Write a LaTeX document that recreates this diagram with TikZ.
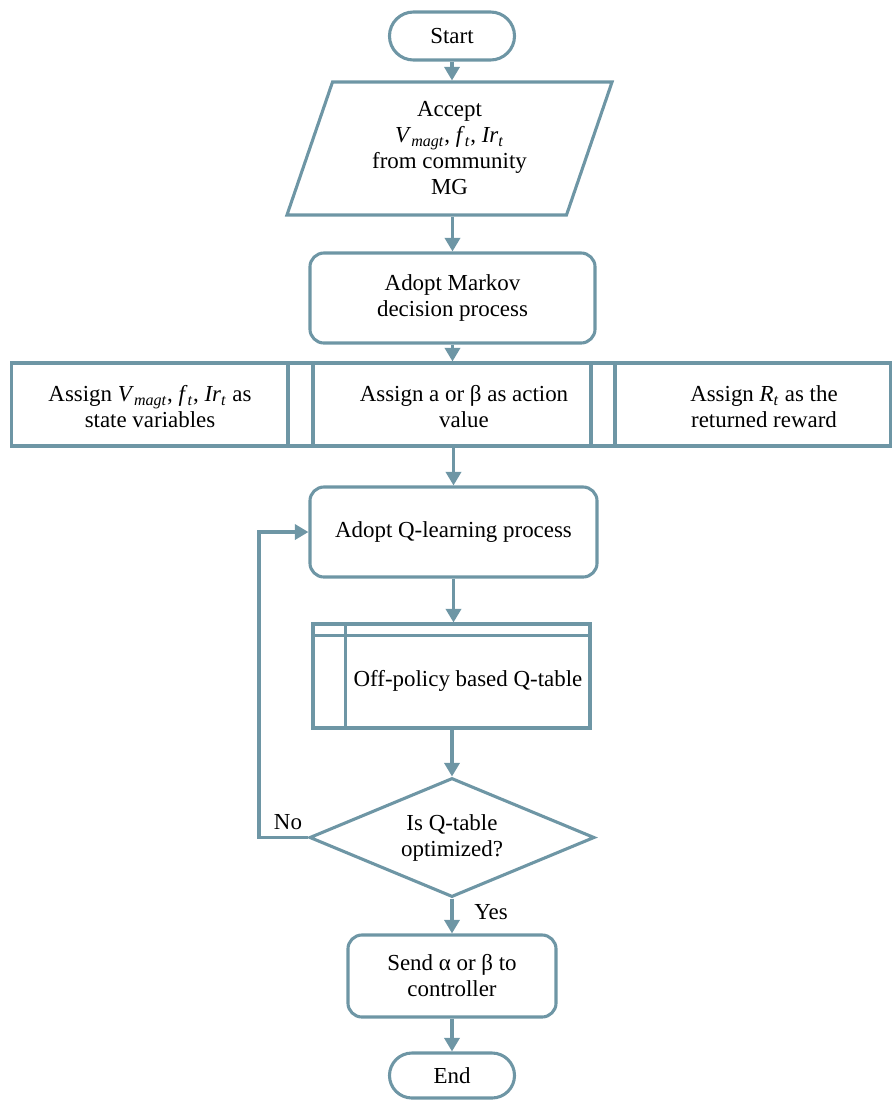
\documentclass[tikz,border=0pt]{standalone}
\usepackage{fontspec}
\setmainfont{Liberation Serif}
\usetikzlibrary{arrows.meta,shapes.geometric,shapes.misc}
\definecolor{flowline}{RGB}{110,150,165}
\newcommand{\qvar}[2]{\textit{#1}\textsubscript{\textit{#2}}}
\tikzset{
  box/.style={draw=flowline, line width=2.2pt, align=center, inner sep=0pt},
  term/.style={box, rounded rectangle, minimum width=3.125cm},
  proc/.style={box, rounded corners=0.35cm},
  divider/.style={draw=flowline, line width=2.2pt},
  arr/.style={draw=flowline, line width=2.2pt, -{Triangle[width=0.38cm,length=0.34cm]}},
  txt/.style={align=center},
}
\begin{document}
\begin{tikzpicture}[x=0.025cm, y=-0.025cm, font=\fontsize{16.3}{18.5}\selectfont]
    \useasboundingbox (0,0) rectangle (892,1101);
    \node[term, minimum height=1.2cm] (start) at (452,36) {Start};
    \node[box, trapezium, trapezium left angle=64, trapezium right angle=116, trapezium stretches body, minimum width=8.125cm, minimum height=3.325cm] (accept) at (449.5,148.5) {Accept\\ \qvar{V}{magt}, \qvar{f}{t}, \qvar{Ir}{t}\\ from community\\ MG};
    \node[proc, minimum width=7.125cm, minimum height=2.25cm] (markov) at (452.5,298) {Adopt Markov\\ decision process};
    % state / action / reward row
    \node[box, minimum width=21.95cm, minimum height=2.075cm] (row) at (451,404.5) {};
    \foreach \x in {288,313,591,615}{
        \draw[divider] (\x,363) -- (\x,446);
    }
    \node[txt] (stvar) at (150,407) {Assign \qvar{V}{magt}, \qvar{f}{t}, \qvar{Ir}{t} as\\ state variables};
    \node[txt] (act) at (464,407) {Assign a or β as action\\ value};
    \node[txt] (rwd) at (764,407) {Assign \qvar{R}{t} as the\\ returned reward};
    \node[proc, minimum width=7.175cm, minimum height=2.25cm] (qlearn) at (453.5,532) {Adopt Q-learning process};
    % Q-table
    \node[box, minimum width=6.925cm, minimum height=2.6cm] (qtab) at (451.5,676) {};
    \draw[divider] ([yshift=-0.325cm]qtab.north west) -- ([yshift=-0.325cm]qtab.north east);
    \draw[divider] ([xshift=0.85cm]qtab.north west) -- ([xshift=0.85cm]qtab.south west);
    \node (qtabtext) at (468,681) {Off-policy based Q-table};
    \node[box, diamond, aspect=2.4, minimum width=7.125cm, minimum height=2.975cm] (opt) at (452,837.5) {Is Q-table\\ optimized?};
    \node[proc, minimum width=5.2cm, minimum height=2.05cm] (send) at (452,976) {Send α or β to\\ controller};
    \node[term, minimum height=1.125cm] (end) at (452,1075.5) {End};
    \coordinate (fb) at (259,837.5);
    \node (no) at (288,822) {No};
    \node (yes) at (491,912) {Yes};
    % connectors
    \draw[arr] (start.south) -- (start.south |- accept.north);
    \draw[arr] (accept.south -| markov.north) -- (markov.north);
    \draw[arr] (markov.south) -- (markov.south |- row.north);
    \draw[arr] (row.south -| qlearn.north) -- (qlearn.north);
    \draw[arr] (qlearn.south) -- (qlearn.south |- qtab.north);
    \draw[arr] (qtab.south -| opt.north) -- (opt.north);
    \draw[arr] (opt.south) -- (send.north);
    \draw[arr] (send.south) -- (end.north);
    \draw[arr] (opt.west) -- (fb) |- (qlearn.west);
\end{tikzpicture}
\end{document}
